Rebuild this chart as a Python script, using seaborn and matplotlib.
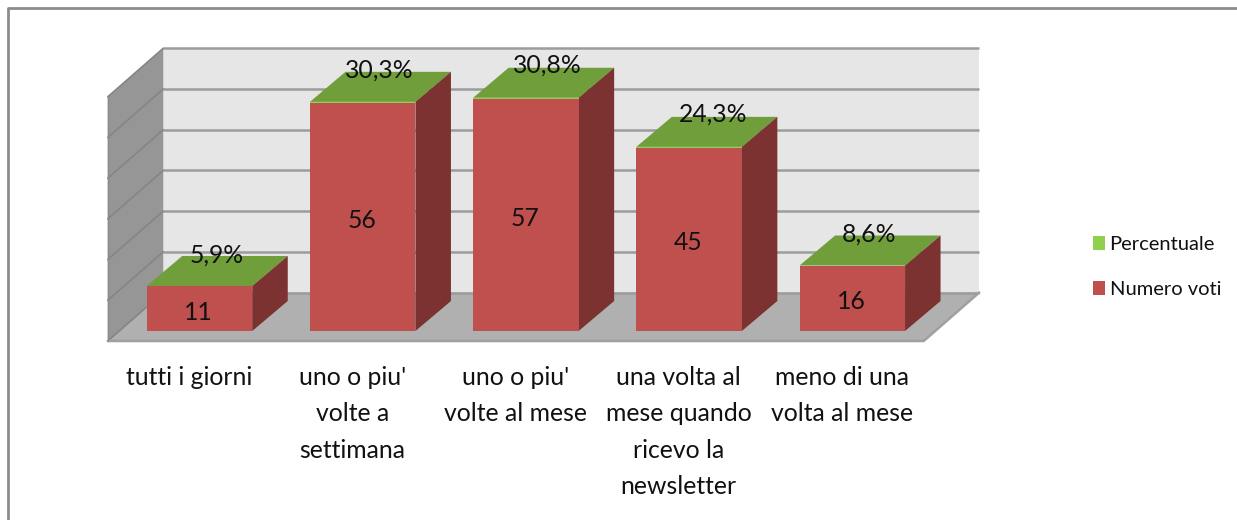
import matplotlib
matplotlib.use("Agg")
import matplotlib.pyplot as plt
from matplotlib.patches import Polygon
import pandas as pd
import seaborn as sns

categories = ["tutti i giorni", "uno o piu'\nvolte a\nsettimana", "uno o piu'\nvolte al mese",
              "una volta al\nmese quando\nricevo la\nnewsletter", "meno di una\nvolta al mese"]
numero_voti = [11, 56, 57, 45, 16]
percentuale = [0.059, 0.303, 0.308, 0.243, 0.086]
percent_labels = ["5,9%", "30,3%", "30,8%", "24,3%", "8,6%"]
y_ticks = [0, 10, 20, 30, 40, 50, 60]

W, H = 1237, 520
SLOT, UNIT = 163.2, 4.07          # px per category / per value
X0, Y0 = 199.5, 331.0             # pixel of category 0 centre at bar base
PT = 100 / 72                     # px per point
def dx(px): return px / SLOT      # pixel lengths to data lengths
def dy(px): return px / UNIT

# small placement nudges (px) for the percent labels
nudge_x = [17, 17, 21, 24, 17]
nudge_y = [31, 32, 33, 33, 31]

sns.set_theme(style="white")
plt.rcParams["font.family"] = ["Lato", "DejaVu Sans"]
fig = plt.figure(figsize=(W / 100, H / 100), dpi=100)
ax = fig.add_axes([0, 0, 1, 1])

df = pd.DataFrame({"cat": categories, "voti": numero_voti, "perc": percentuale})
sns.barplot(data=df, x="cat", y="voti", ax=ax, color="#c0504d", saturation=1, width=105.5 / SLOT,
            label="Numero voti", linewidth=0, zorder=4)
sns.barplot(data=df, x="cat", y="perc", ax=ax, color="#8fd14f", saturation=1, width=105.5 / SLOT,
            bottom=df["voti"].to_numpy(), label="Percentuale", linewidth=0, zorder=4)
ax.set_xlim(-X0 / SLOT, (W - X0) / SLOT)
ax.set_ylim((Y0 - H) / UNIT, Y0 / UNIT)
ax.set_xlabel(""); ax.set_ylabel("")
ax.tick_params(left=False, bottom=False, labelleft=False, labelbottom=False)
sns.despine(ax=ax, left=True, bottom=True)

# 3-D box of the chart: floor offset from the bar base and depth of the walls
half = 105.5 / SLOT / 2
xl, xr = -half - dx(39), 5 - half - dx(39)
yf = -dy(10)
DX, DY = dx(55.5), dy(48.5)
ytop = y_ticks[-1]
ax.add_patch(Polygon([(xl + DX, yf + DY), (xr + DX, yf + DY), (xr + DX, yf + DY + ytop), (xl + DX, yf + DY + ytop)],
                     fc="#e6e6e6", ec="none", zorder=1))
ax.add_patch(Polygon([(xl, yf), (xl + DX, yf + DY), (xl + DX, yf + DY + ytop), (xl, yf + ytop)],
                     fc="#969696", ec="none", zorder=1))
ax.add_patch(Polygon([(xl, yf), (xr, yf), (xr + DX, yf + DY), (xl + DX, yf + DY)],
                     fc="#b0b0b0", ec="none", zorder=1))
for t in y_ticks:
    ax.plot([xl + DX, xr + DX], [yf + DY + t] * 2, color="#9c9c9c", lw=1.8, zorder=2, solid_capstyle="butt")
    ax.plot([xl, xl + DX], [yf + t, yf + DY + t], color="#858585", lw=1.2, zorder=2)
ax.plot([xl, xr, xr + DX], [yf, yf, yf + DY], color="#a0a0a0", lw=1.8, zorder=2)
ax.plot([xl, xl], [yf, yf + ytop], color="#8a8a8a", lw=1.0, zorder=2)

# bar depth faces built from the values
BX, BY = dx(35.5), dy(30)
for i, (v, p, lab) in enumerate(zip(numero_voti, percentuale, percent_labels)):
    l, r = i - half, i + half
    t = v + p
    ax.add_patch(Polygon([(l, t), (r, t), (r + BX, t + BY), (l + BX, t + BY)], fc="#6f9e3b", ec="none", zorder=3))
    ax.add_patch(Polygon([(r, 0), (r + BX, BY), (r + BX, t + BY), (r, t)], fc="#7b3230", ec="none", zorder=3))
    ax.annotate(str(v), (i, v / 2), xytext=(-1 / PT, -3.5 / PT), textcoords="offset points",
                ha="center", va="center", fontsize=17.8, color="#111111", zorder=6)
    ax.annotate(lab, (i, t), xytext=(nudge_x[i] / PT, nudge_y[i] / PT), textcoords="offset points",
                ha="center", va="center", fontsize=17.8, color="#111111", zorder=6)

# category labels, centred under the floor slots
for i, lab in enumerate(categories):
    ax.text(i - dx(10.5), -dy(35), lab, ha="center", va="top", fontsize=17.8, color="#111111",
            linespacing=1.71, zorder=6)

# legend
handles, labels = ax.get_legend_handles_labels()
ax.legend(handles[::-1], labels[::-1], loc="center left", bbox_to_anchor=(1093 / W, 1 - 267 / H),
          frameon=False, fontsize=14.5, handlelength=0.62, handleheight=0.68, handletextpad=0.2,
          labelspacing=1.42, borderpad=0, borderaxespad=0, labelcolor="#111111")

# outer frame (top and left edges only are in view)
fig.add_artist(plt.Line2D([8 / W, 8 / W, 1], [0, 1 - 7.8 / H, 1 - 7.8 / H], color="#8c8c8c", lw=2.0,
                          transform=fig.transFigure))
fig.savefig("out.png", dpi=100, facecolor="white")
